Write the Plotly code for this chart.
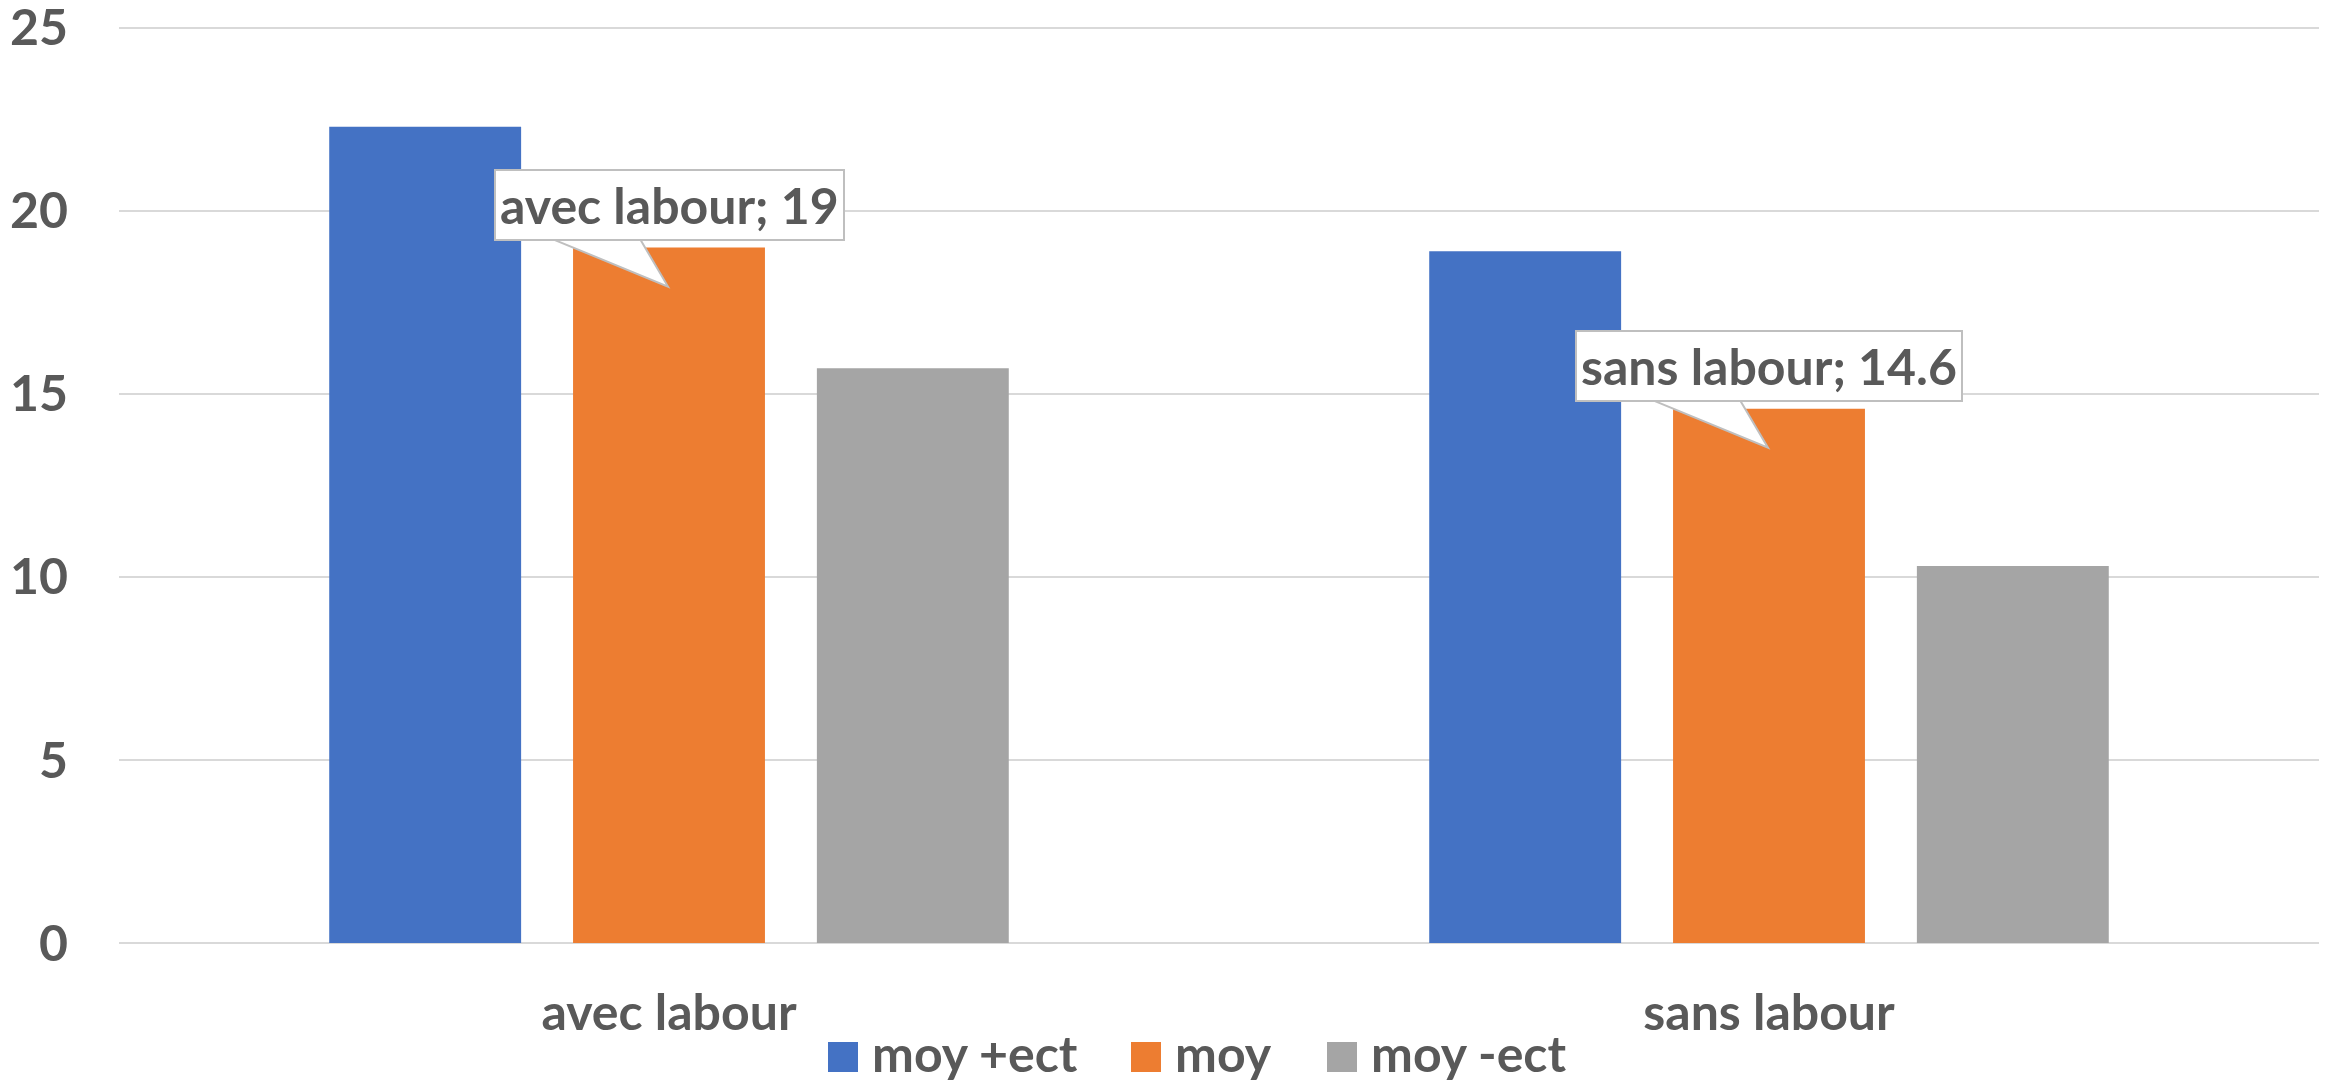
import plotly.graph_objects as go

categories = ["avec labour", "sans labour"]
series_names = ["moy +ect", "moy", "moy -ect"]
moy_plus_ect = [22.3, 18.9]
moy = [19.0, 14.6]
moy_minus_ect = [15.7, 10.3]
y_ticks = [0, 5, 10, 15, 20, 25]

colors = ["#4472C4", "#ED7D31", "#A5A5A5"]
text_color = "#595959"
grid_color = "#D9D9D9"
font_family = "Lato"
fsize = 50

W, H = 2328, 1083
ML, MR, MT, MB = 119, 9, 17, 140
plot_w = W - ML - MR
plot_h = H - MT - MB


def px_x(px):
    return (px - ML) / plot_w


def px_y(py):
    return (H - MB - py) / plot_h


fig = go.Figure()
for name, vals, col in zip(series_names, [moy_plus_ect, moy, moy_minus_ect], colors):
    fig.add_trace(go.Bar(x=categories, y=vals, name=name, marker=dict(color=col, line=dict(width=0)),
                         showlegend=False, hoverinfo="skip"))

# callouts on the "moy" series
for cat, val in zip(categories, moy):
    fig.add_shape(type="path", xref="x", yref="y", xsizemode="pixel", ysizemode="pixel",
                  xanchor=cat, yanchor=val, path="M-125,12 L-1,-39 L-31,12 Z",
                  fillcolor="white", line=dict(color="#BFBFBF", width=2), layer="above")
    fig.add_annotation(x=cat, y=val, xref="x", yref="y", text=f"{cat}; {val:g}", showarrow=False,
                       yanchor="bottom", yshift=7, bgcolor="white", bordercolor="#BFBFBF",
                       borderwidth=2, borderpad=4,
                       font=dict(family=font_family, size=fsize, color=text_color, weight="bold"))

# legend built by hand (larger swatches than plotly's legend allows)
legend_x = [828, 1131, 1327]
for name, col, lx in zip(series_names, colors, legend_x):
    fig.add_shape(type="rect", xref="paper", yref="paper", x0=px_x(lx), x1=px_x(lx + 30),
                  y0=px_y(1072), y1=px_y(1042), fillcolor=col, line=dict(width=0))
    fig.add_annotation(x=px_x(lx + 42), y=px_y(1053), xref="paper", yref="paper", text=name,
                       showarrow=False, xanchor="left", yanchor="middle",
                       font=dict(family=font_family, size=fsize, color=text_color, weight="bold"))

fig.update_layout(
    width=W, height=H,
    margin=dict(l=ML, r=MR, t=MT, b=MB, autoexpand=False),
    paper_bgcolor="white", plot_bgcolor="white",
    barmode="group", bargap=0.335, bargroupgap=0.213,
    font=dict(family=font_family, size=fsize, color=text_color, weight="bold"),
    showlegend=False,
)
fig.update_xaxes(showgrid=False, showline=False, ticks="", ticklabelstandoff=36, automargin=False,
                 tickfont=dict(family=font_family, size=fsize, color=text_color, weight="bold"))
fig.update_yaxes(range=[0, 25.3], tickvals=y_ticks, showgrid=True, gridcolor=grid_color, gridwidth=2,
                 zeroline=True, zerolinecolor=grid_color, zerolinewidth=2, showline=False, ticks="",
                 ticklabelstandoff=50, automargin=False, ticklabeloverflow="allow",
                 tickfont=dict(family=font_family, size=fsize, color=text_color, weight="bold"))

fig.write_html("out.html", config={"displayModeBar": False},
               post_script="document.body.style.margin='0';")
